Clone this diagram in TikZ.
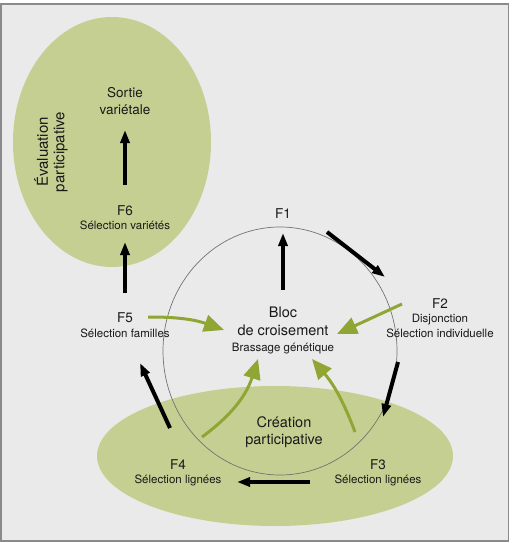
\documentclass[tikz,border=0pt]{standalone}
\usepackage{fontspec}
\setmainfont{TeX Gyre Heros}
\usepackage{xcolor}
\usetikzlibrary{arrows.meta}

\definecolor{leaf}{RGB}{198,207,146}
\definecolor{sprout}{RGB}{143,166,52}
\definecolor{paper}{RGB}{234,234,234}
\definecolor{frame}{RGB}{138,138,138}

\begin{document}
\begin{tikzpicture}[x=1pt,y=-1pt,
  every node/.style={inner sep=0pt,text=black!90},
  big/.style={font=\fontsize{14.5}{17}\selectfont,align=center},
  gen/.style={font=\fontsize{13.5}{16}\selectfont,anchor=base},
  sel/.style={font=\fontsize{11.5}{14}\selectfont,anchor=base},
  blk/.style={line width=4pt,-{Triangle[length=13pt,width=9pt]}},
  grn/.style={sprout,line width=3pt,-{Triangle[length=20pt,width=17pt]}}]
  \useasboundingbox (0,0) rectangle (513,543);
  \fill[white] (0,0) rectangle (513,543);
  \draw[frame,line width=1.5pt,fill=paper] (1,4) rectangle (508.5,541);
  % the two groups of farmers
  \fill[leaf] (112,142) ellipse [x radius=99,y radius=125];
  \fill[leaf] (275,456) ellipse [x radius=178,y radius=70];
  \draw[black!55,line width=0.7pt] (280,351) ellipse [x radius=117,y radius=124];
  % texts
  \node[big,font=\fontsize{13.5}{16.5}\selectfont] (sortie) at (125,101) {Sortie\\variétale};
  \node[big,font=\fontsize{15}{16.5}\selectfont,rotate=90] (evalpart) at (51,152) {Évaluation\\participative};
  \node[big] (creapart) at (284,432) {Création\\participative};
  \node[gen] (f6) at (125,215) {F6};
  \node[sel] (f6sel) at (125,229.5) {Sélection variétés};
  \node[gen] (f5) at (125,322) {F5};
  \node[sel] (f5sel) at (125,337) {Sélection familles};
  \node[gen] (f4) at (178,469) {F4};
  \node[sel] (f4sel) at (178,483.5) {Sélection lignées};
  \node[gen] (f3) at (378,469) {F3};
  \node[sel] (f3sel) at (378,483.5) {Sélection lignées};
  \node[gen] (f2) at (440,308) {F2};
  \node[sel] (f2dis) at (440,322) {Disjonction};
  \node[sel] (f2sel) at (440,337) {Sélection individuelle};
  \node[gen] (f1) at (283,218) {F1};
  \node[gen,font=\fontsize{14.5}{17}\selectfont] (bloc) at (283,317) {Bloc};
  \node[gen,font=\fontsize{14.5}{17}\selectfont] (croise) at (283,335.5) {de croisement};
  \node[sel] (brass) at (283,351) {Brassage génétique};
  % arrow ends
  \coordinate (a6s) at (125,185);  \coordinate (a6e) at (125,130);
  \coordinate (a5s) at (125,293);  \coordinate (a5e) at (125,242);
  \coordinate (a4s) at (170,428);  \coordinate (a4e) at (140,363);
  \coordinate (a3s) at (310,482);  \coordinate (a3e) at (237,482);
  \coordinate (a2s) at (398,362);  \coordinate (a2e) at (383,417);
  \coordinate (a1s) at (327,232);  \coordinate (a1e) at (385,277);
  \coordinate (a0s) at (283,290);  \coordinate (a0e) at (283,233);
  \coordinate (g5s) at (148,317);  \coordinate (g5e) at (224,330);
  \coordinate (g2s) at (402,304);  \coordinate (g2e) at (337,334);
  \coordinate (g4s) at (202,437);  \coordinate (g4e) at (258,359);
  \coordinate (g3s) at (355,432);  \coordinate (g3e) at (312,359);
  % generations
  \draw[blk] (a6s) -- (a6e);
  \draw[blk] (a5s) -- (a5e);
  \draw[blk] (a4s) -- (a4e);
  \draw[blk] (a3s) -- (a3e);
  \draw[blk] (a2s) -- (a2e);
  \draw[blk] (a1s) -- (a1e);
  \draw[blk] (a0s) -- (a0e);
  % back to the crossing block
  \draw[grn] (g5s) to[bend left=10] (g5e);
  \draw[grn] (g2s) -- (g2e);
  \draw[grn] (g4s) to[bend right=18] (g4e);
  \draw[grn] (g3s) to[bend right=10] (g3e);
\end{tikzpicture}
\end{document}
